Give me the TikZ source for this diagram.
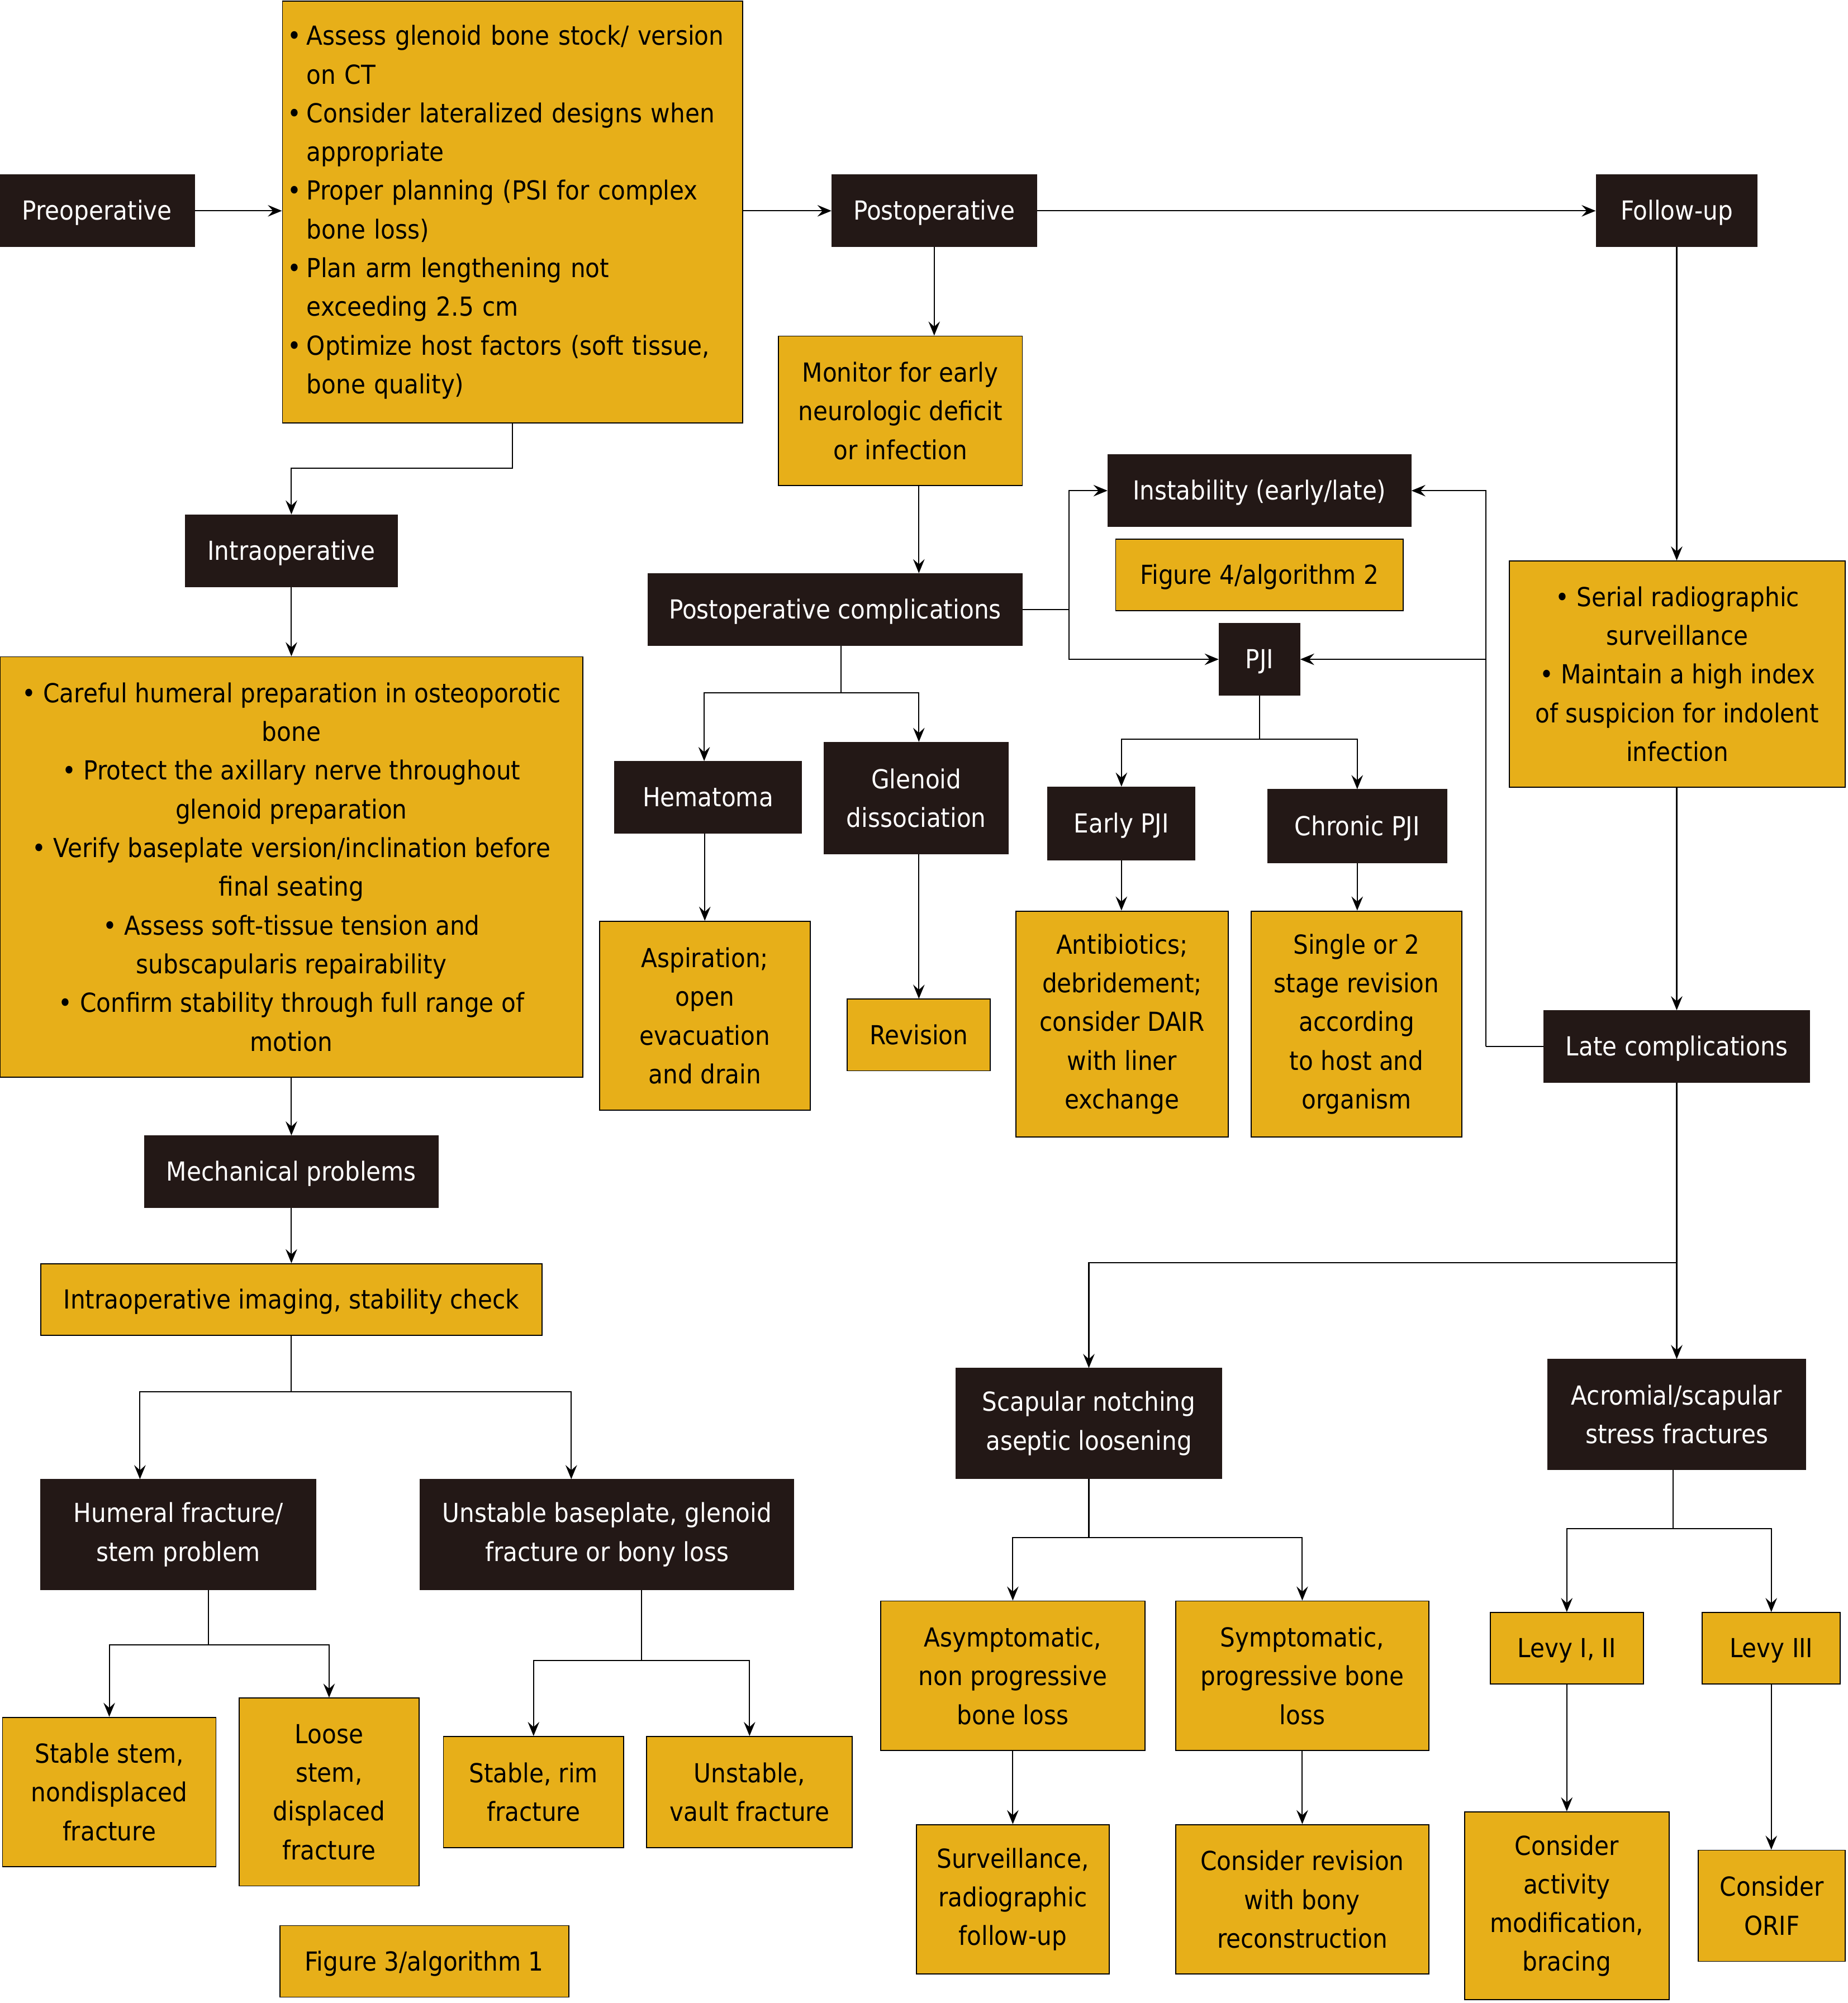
\documentclass[tikz,border=0pt]{standalone}
\usepackage{fontspec}
\setmainfont{DejaVu Sans Condensed}
\usetikzlibrary{arrows.meta}
\definecolor{gdc}{HTML}{E7AF19}
\definecolor{dkc}{HTML}{231816}
\newcommand{\bul}{\makebox[14pt][l]{\hspace*{-1pt}•}}
\newcommand{\ind}{\hspace*{14pt}}
\begin{document}
\begin{tikzpicture}[x=1pt,y=-1pt,
  base/.style={inner sep=0pt, align=center, font=\fontsize{20.5}{30.3}\selectfont},
  dk/.style={base, fill=dkc, draw=dkc, text=white, line width=0.8pt},
  gd/.style={base, fill=gdc, draw=black, text=black, line width=0.8pt},
  one/.style={text height=19.5pt, text depth=5pt},
  arr/.style={line width=0.9pt, -{Stealth[length=11pt,width=9pt,inset=4pt]}},
  ln/.style={line width=0.9pt},
  box/.style n args={2}{minimum width=#1pt, minimum height=#2pt}]
\useasboundingbox (0,0) rectangle (1446,1567.6);
\fill[white] (0,0) rectangle (1446,1567.6);
% ---- top row
\node[dk, one, box={152}{56}] (preop) at (76,165) {Preoperative};
\node[gd, box={360}{330}, text width=350pt, align=left, inner xsep=5pt] (top) at (401,166)
 {\bul Assess glenoid bone stock/ version\\
  \ind on CT\\
  \bul Consider lateralized designs when\\
  \ind appropriate\\
  \bul Proper planning (PSI for complex\\
  \ind bone loss)\\
  \bul Plan arm lengthening not\\
  \ind exceeding 2.5 cm\\
  \bul Optimize host factors (soft tissue,\\
  \ind bone quality)};
\node[dk, one, box={160}{56}] (post) at (731,165) {Postoperative};
\node[dk, one, box={126}{56}] (follow) at (1312,165) {Follow-up};
% ---- intraoperative branch
\node[dk, one, box={166}{56}] (intra) at (228,431) {Intraoperative};
\node[gd, box={456}{329}] (ibox) at (228,678.5)
 {• Careful humeral preparation in osteoporotic\\ bone\\
  • Protect the axillary nerve throughout\\ glenoid preparation\\
  • Verify baseplate version/inclination before\\ final seating\\
  • Assess soft-tissue tension and\\ subscapularis repairability\\
  • Confirm stability through full range of\\ motion};
\node[dk, one, box={230}{56}] (mech) at (228,917) {Mechanical problems};
\node[gd, one, box={392}{56}] (imag) at (228,1017) {Intraoperative imaging, stability check};
\node[dk, box={215}{86}] (hum) at (139.5,1201) {Humeral fracture/\\ stem problem};
\node[dk, box={292}{86}] (unst) at (475,1201) {Unstable baseplate, glenoid\\ fracture or bony loss};
\node[gd, box={167}{117}] (stab) at (85.5,1402.5) {Stable stem,\\ nondisplaced\\ fracture};
\node[gd, box={141}{147}] (loose) at (257.5,1402.5) {Loose\\ stem,\\ displaced\\ fracture};
\node[gd, box={141}{87}] (rim) at (417.5,1402.5) {Stable, rim\\ fracture};
\node[gd, box={161}{87}] (vault) at (586.5,1402.5) {Unstable,\\ vault fracture};
\node[gd, one, box={226}{56}] (fig3) at (332,1535) {Figure 3/algorithm 1};
% ---- postoperative branch
\node[gd, box={191}{117}] (mon) at (704.5,321.5) {Monitor for early\\ neurologic deficit\\ or infection};
\node[dk, one, box={293}{56}] (pcomp) at (653.5,477) {Postoperative complications};
\node[dk, one, box={146}{56}] (hema) at (554,624) {Hematoma};
\node[dk, box={144}{87}] (glen) at (717,624.5) {Glenoid\\ dissociation};
\node[gd, box={165}{148}] (asp) at (551.5,795) {Aspiration;\\ open\\ evacuation\\ and drain};
\node[gd, one, box={112}{56}] (rev) at (719,810) {Revision};
\node[dk, one, box={237}{56}] (inst) at (985.5,384) {Instability (early/late)};
\node[gd, one, box={225}{56}] (fig4) at (985.5,450) {Figure 4/algorithm 2};
\node[dk, one, box={63}{56}] (pji) at (985.5,516) {PJI};
\node[dk, one, box={115}{57}] (early) at (877.5,644.5) {Early PJI};
\node[dk, one, box={140}{57}] (chron) at (1062,646.5) {Chronic PJI};
\node[gd, box={166}{177}] (anti) at (878,801.5) {Antibiotics;\\ debridement;\\ consider DAIR\\ with liner\\ exchange};
\node[gd, box={165}{177}] (single) at (1061.5,801.5) {Single or 2\\ stage revision\\ according\\ to host and\\ organism};
% ---- follow-up branch
\node[gd, box={263}{177}] (serial) at (1312.5,527.5) {• Serial radiographic\\ surveillance\\ • Maintain a high index\\ of suspicion for indolent\\ infection};
\node[dk, one, box={208}{56}] (late) at (1312,819) {Late complications};
\node[dk, box={208}{86}] (scap) at (852,1114) {Scapular notching\\ aseptic loosening};
\node[dk, box={202}{86}] (acro) at (1312,1107) {Acromial/scapular\\ stress fractures};
\node[gd, box={207}{117}] (asym) at (792.5,1311.5) {Asymptomatic,\\ non progressive\\ bone loss};
\node[gd, box={198}{117}] (symp) at (1019,1311.5) {Symptomatic,\\ progressive bone\\ loss};
\node[gd, box={151}{117}] (surv) at (792.5,1486.5) {Surveillance,\\ radiographic\\ follow-up};
\node[gd, box={198}{117}] (crev) at (1019,1486.5) {Consider revision\\ with bony\\ reconstruction};
\node[gd, one, box={120}{56}] (levyA) at (1226,1290) {Levy I, II};
\node[gd, one, box={108}{56}] (levyB) at (1386,1290) {Levy III};
\node[gd, box={160}{147}] (act) at (1226,1491.5) {Consider\\ activity\\ modification,\\ bracing};
\node[gd, box={115}{87}] (orif) at (1386.5,1491.5) {Consider\\ ORIF};
% ---- connectors: top row
\draw[arr] (preop.east) -- (preop.east -| top.west);
\draw[arr] (post.west -| top.east) -- (post.west);
\draw[arr] (post.east) -- (follow.west);
\draw[arr] (top.south) -- ++(0,35) -| (intra.north);
\draw[arr] (intra.south) -- (ibox.north);
\draw[arr] (ibox.south) -- (mech.north);
\draw[arr] (mech.south) -- (imag.north);
\draw[ln] (imag.south) -- ++(0,44) coordinate (j1);
\draw[arr] (j1) -| ([xshift=-30pt]hum.north);
\draw[arr] (j1) -| ([xshift=-28pt]unst.north);
\draw[ln] ([xshift=23.5pt]hum.south) -- ++(0,43) coordinate (j2);
\draw[arr] (j2) -| (stab.north);
\draw[arr] (j2) -| (loose.north);
\draw[ln] ([xshift=27pt]unst.south) -- ++(0,55) coordinate (j2b);
\draw[arr] (j2b) -| (rim.north);
\draw[arr] (j2b) -| (vault.north);
% ---- postoperative
\draw[arr] (post.south) -- (post.south |- mon.north);
\draw[arr] ([xshift=14.5pt]mon.south) -- ([xshift=14.5pt]mon.south |- pcomp.north);
\draw[ln] ([xshift=4.5pt]pcomp.south) -- ++(0,37) coordinate (j3);
\draw[arr] (j3) -| ([xshift=-3pt]hema.north);
\draw[arr] (j3) -| ([xshift=2pt]glen.north);
\draw[arr] (asp.north |- hema.south) -- (asp.north);
\draw[arr] (rev.north |- glen.south) -- (rev.north);
\draw[ln] (pcomp.east) -- ++(36,0) coordinate (j4);
\draw[arr] (j4) |- (inst.west);
\draw[arr] (j4) |- (pji.west);
\draw[ln] (late.west) -- ++(-45,0) coordinate (j5);
\draw[arr] (j5) |- (inst.east);
\draw[arr] (j5) |- (pji.east);
\draw[ln] (pji.south) -- ++(0,34) coordinate (j6);
\draw[arr] (j6) -| (early.north);
\draw[arr] (j6) -| (chron.north);
\draw[arr] (early.south) -- (early.south |- anti.north);
\draw[arr] (chron.south) -- (chron.south |- single.north);
% ---- follow-up
\draw[arr] (follow.south) -- (follow.south |- serial.north);
\draw[arr] (late.north |- serial.south) -- (late.north);
\draw[ln] (late.south) -- ++(0,141) coordinate (j7);
\draw[arr] (j7) -| (scap.north);
\draw[arr] (j7) -- (acro.north);
\draw[ln] (scap.south) -- ++(0,46) coordinate (j8);
\draw[arr] (j8) -| (asym.north);
\draw[arr] (j8) -| (symp.north);
\draw[arr] (asym.south) -- (surv.north);
\draw[arr] (symp.south) -- (crev.north);
\draw[ln] ([xshift=-3pt]acro.south) -- ++(0,46) coordinate (j9);
\draw[arr] (j9) -| (levyA.north);
\draw[arr] (j9) -| (levyB.north);
\draw[arr] (levyA.south) -- (act.north);
\draw[arr] (levyB.south) -- (levyB.south |- orif.north);
\end{tikzpicture}
\end{document}
